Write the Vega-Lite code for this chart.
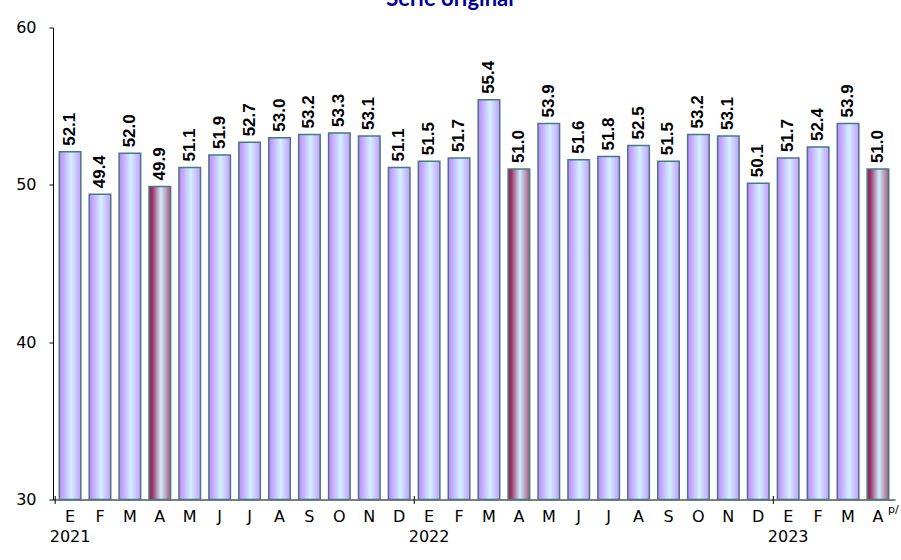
{
  "$schema": "https://vega.github.io/schema/vega-lite/v6.json",
  "width": 842,
  "height": 472,
  "autosize": "none",
  "padding": {"left": 53, "top": 27.5, "right": 6, "bottom": 60.5},
  "background": "white",
  "title": {"text": "Serie original", "font": "Lato", "fontSize": 22, "fontWeight": "bold", "color": "#000099", "anchor": "middle", "baseline": "top", "offset": 9, "dx": -24},
  "data": {"values": [
    {"periodo": "2021-01", "valor": 52.1, "abril": false, "nota": ""},
    {"periodo": "2021-02", "valor": 49.4, "abril": false, "nota": ""},
    {"periodo": "2021-03", "valor": 52.0, "abril": false, "nota": ""},
    {"periodo": "2021-04", "valor": 49.9, "abril": true, "nota": ""},
    {"periodo": "2021-05", "valor": 51.1, "abril": false, "nota": ""},
    {"periodo": "2021-06", "valor": 51.9, "abril": false, "nota": ""},
    {"periodo": "2021-07", "valor": 52.7, "abril": false, "nota": ""},
    {"periodo": "2021-08", "valor": 53.0, "abril": false, "nota": ""},
    {"periodo": "2021-09", "valor": 53.2, "abril": false, "nota": ""},
    {"periodo": "2021-10", "valor": 53.3, "abril": false, "nota": ""},
    {"periodo": "2021-11", "valor": 53.1, "abril": false, "nota": ""},
    {"periodo": "2021-12", "valor": 51.1, "abril": false, "nota": ""},
    {"periodo": "2022-01", "valor": 51.5, "abril": false, "nota": ""},
    {"periodo": "2022-02", "valor": 51.7, "abril": false, "nota": ""},
    {"periodo": "2022-03", "valor": 55.4, "abril": false, "nota": ""},
    {"periodo": "2022-04", "valor": 51.0, "abril": true, "nota": ""},
    {"periodo": "2022-05", "valor": 53.9, "abril": false, "nota": ""},
    {"periodo": "2022-06", "valor": 51.6, "abril": false, "nota": ""},
    {"periodo": "2022-07", "valor": 51.8, "abril": false, "nota": ""},
    {"periodo": "2022-08", "valor": 52.5, "abril": false, "nota": ""},
    {"periodo": "2022-09", "valor": 51.5, "abril": false, "nota": ""},
    {"periodo": "2022-10", "valor": 53.2, "abril": false, "nota": ""},
    {"periodo": "2022-11", "valor": 53.1, "abril": false, "nota": ""},
    {"periodo": "2022-12", "valor": 50.1, "abril": false, "nota": ""},
    {"periodo": "2023-01", "valor": 51.7, "abril": false, "nota": ""},
    {"periodo": "2023-02", "valor": 52.4, "abril": false, "nota": ""},
    {"periodo": "2023-03", "valor": 53.9, "abril": false, "nota": ""},
    {"periodo": "2023-04", "valor": 51.0, "abril": true, "nota": "p/"}
  ]},
  "encoding": {
    "x": {
      "field": "periodo", "type": "ordinal", "sort": "ascending",
      "scale": {"paddingInner": 0.28, "paddingOuter": 0.21},
      "axis": {
        "title": null, "ticks": false, "domainColor": "black", "domainWidth": 1,
        "labelAngle": 0, "labelFont": "DejaVu Sans", "labelFontSize": 16, "labelColor": "black",
        "labelPadding": 9, "labelLineHeight": 20, "labelBaseline": "top", "labelOverlap": false, "labelBound": false,
        "labelExpr": "substring(datum.value,5,7) == '01' ? ['E', substring(datum.value,0,4)] : ['E','F','M','A','M','J','J','A','S','O','N','D'][toNumber(substring(datum.value,5,7)) - 1]"
      }
    },
    "y": {
      "field": "valor", "type": "quantitative",
      "scale": {"domain": [30, 60], "nice": false, "zero": false},
      "axis": {
        "title": null, "values": [30, 40, 50, 60], "grid": false,
        "domainColor": "black", "domainWidth": 1, "tickColor": "black", "tickSize": 4,
        "labelFont": "DejaVu Sans", "labelFontSize": 16, "labelColor": "black", "labelPadding": 13
      }
    }
  },
  "layer": [
    {
      "transform": [{"filter": "datum.abril == false"}],
      "mark": {
        "type": "bar", "stroke": "#4a7880", "strokeWidth": 1.5,
        "fill": {"gradient": "linear", "x1": 0, "y1": 0, "x2": 1, "y2": 0,
          "stops": [{"offset": 0, "color": "#bf86ff"}, {"offset": 0.55, "color": "#d2f0ff"}, {"offset": 1, "color": "#c49cff"}]}
      },
      "encoding": {"y2": {"datum": 30}}
    },
    {
      "transform": [{"filter": "datum.abril == true"}],
      "mark": {
        "type": "bar", "stroke": "#4a7880", "strokeWidth": 1.5,
        "fill": {"gradient": "linear", "x1": 0, "y1": 0, "x2": 1, "y2": 0,
          "stops": [{"offset": 0, "color": "#8c2656"}, {"offset": 0.15, "color": "#993366"}, {"offset": 0.55, "color": "#d0ecff"}, {"offset": 1, "color": "#a45a80"}]}
      },
      "encoding": {"y2": {"datum": 30}}
    },
    {
      "mark": {"type": "text", "align": "left", "baseline": "middle", "angle": 270, "dx": 6, "font": "Liberation Sans", "fontSize": 17, "fontWeight": "bold", "fill": "#000000"},
      "encoding": {
        "text": {"field": "valor", "type": "quantitative", "format": ".1f"},
        "y": {"field": "valor", "type": "quantitative"}
      }
    },
    {
      "transform": [{"filter": "substring(datum.periodo,5,7) == '01'"}],
      "mark": {"type": "rule", "color": "black", "strokeWidth": 1},
      "encoding": {
        "x": {"field": "periodo", "type": "ordinal", "sort": "ascending", "bandPosition": -0.19},
        "y": {"datum": 30.22},
        "y2": {"datum": 29.72}
      }
    },
    {
      "transform": [{"filter": "datum.nota != ''"}],
      "mark": {"type": "text", "align": "left", "baseline": "middle", "dx": 10, "dy": 10, "font": "DejaVu Sans", "fontSize": 11, "fill": "black"},
      "encoding": {"y": {"datum": 30}, "text": {"field": "nota"}}
    }
  ],
  "config": {"view": {"stroke": null}}
}
